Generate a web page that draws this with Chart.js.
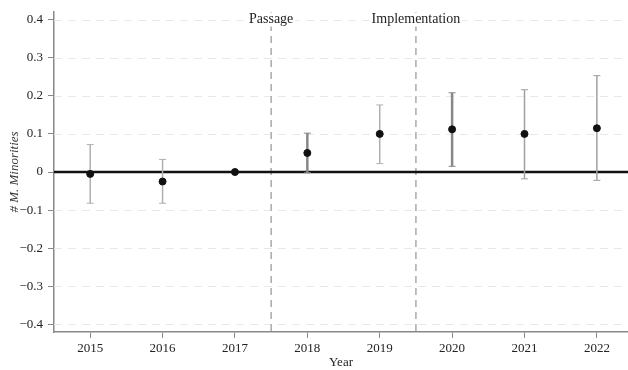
<!DOCTYPE html>
<html><head><meta charset="utf-8">
<script src="https://cdn.jsdelivr.net/npm/chart.js@4/dist/chart.umd.min.js"></script>
<style>html,body{margin:0;padding:0;background:#fff}#wrap{width:628px;height:370px}</style>
</head><body><div id="wrap"><canvas id="c"></canvas></div>
<script>
const years = [2015, 2016, 2017, 2018, 2019, 2020, 2021, 2022];
const estimates = [-0.005, -0.025, 0, 0.05, 0.1, 0.112, 0.1, 0.115];
const lowerCI = [-0.082, -0.082, null, -0.002, 0.022, 0.015, -0.018, -0.022];
const upperCI = [0.072, 0.033, null, 0.102, 0.176, 0.208, 0.216, 0.253];
const barColors = ['#b0b0b0', '#b0b0b0', '#b0b0b0', '#888888', '#b0b0b0', '#888888', '#a0a0a0', '#a0a0a0'];
const barWidths = [1.5, 1.5, 1.5, 2.5, 1.5, 2.5, 1.5, 1.5];
const yTicks = [-0.4, -0.3, -0.2, -0.1, 0, 0.1, 0.2, 0.3, 0.4];
const events = [{x: 2017.5, label: 'Passage'}, {x: 2019.5, label: 'Implementation'}];
const FONT = '"Liberation Serif", "DejaVu Serif", serif';

const decor = {
  id: 'decor',
  beforeDatasetsDraw(chart) {
    const {ctx, chartArea: a, scales: {x, y}} = chart;
    ctx.save();
    ctx.strokeStyle = '#e8e8e8'; ctx.lineWidth = 1; ctx.setLineDash([8, 6]);
    yTicks.forEach(v => { if (v === 0) return; const py = Math.round(y.getPixelForValue(v)) + 0.5;
      ctx.beginPath(); ctx.moveTo(a.left, py); ctx.lineTo(a.right, py); ctx.stroke(); });
    ctx.strokeStyle = '#aaaaaa'; ctx.lineWidth = 1.5; ctx.setLineDash([7, 5]);
    events.forEach(e => { const px = x.getPixelForValue(e.x);
      ctx.beginPath(); ctx.moveTo(px, a.top); ctx.lineTo(px, a.bottom); ctx.stroke(); });
    ctx.setLineDash([]);
    ctx.font = '14px ' + FONT; ctx.textAlign = 'center'; ctx.textBaseline = 'middle';
    events.forEach(e => { const px = x.getPixelForValue(e.x); const py = y.getPixelForValue(0.4);
      const w = ctx.measureText(e.label).width;
      ctx.fillStyle = '#fff'; ctx.fillRect(px - w/2 - 2, py - 7, w + 4, 14);
      ctx.fillStyle = '#222'; ctx.fillText(e.label, px, py); });
    ctx.strokeStyle = '#111'; ctx.lineWidth = 2.5;
    const zy = y.getPixelForValue(0);
    ctx.beginPath(); ctx.moveTo(a.left, zy); ctx.lineTo(a.right, zy); ctx.stroke();
    years.forEach((yr, i) => {
      if (lowerCI[i] == null) return;
      const px = x.getPixelForValue(yr), pl = y.getPixelForValue(lowerCI[i]), pu = y.getPixelForValue(upperCI[i]);
      ctx.strokeStyle = barColors[i]; ctx.lineWidth = barWidths[i];
      ctx.beginPath(); ctx.moveTo(px, pl); ctx.lineTo(px, pu); ctx.stroke();
      ctx.lineWidth = 1;
      ctx.beginPath(); ctx.moveTo(px - 3.5, pl); ctx.lineTo(px + 3.5, pl); ctx.moveTo(px - 3.5, pu); ctx.lineTo(px + 3.5, pu); ctx.stroke();
    });
    ctx.restore();
  }
};

new Chart(document.getElementById('c'), {
  type: 'scatter',
  data: { datasets: [{ data: years.map((yr, i) => ({x: yr, y: estimates[i]})),
    backgroundColor: '#111', borderColor: '#111', pointRadius: 3.5, pointHoverRadius: 3.5 }] },
  options: {
    responsive: true, maintainAspectRatio: false, animation: false,
    layout: { autoPadding: false, padding: { top: 12, right: 0, left: 0, bottom: 0 } },
    plugins: { legend: { display: false }, tooltip: { enabled: false } },
    scales: {
      x: { type: 'linear', min: 2014.5, max: 2022.43,
        afterBuildTicks: s => { s.ticks = years.map(v => ({value: v})); },
        afterFit: s => { s.height = 38; s.paddingRight = 0; s.paddingLeft = 0; },
        grid: { drawOnChartArea: false, drawTicks: true, tickLength: 6, color: '#888', tickWidth: 1 },
        border: { display: true, color: '#888', width: 1.5 },
        ticks: { color: '#222', font: { family: FONT, size: 13 }, padding: 3, callback: v => String(v), maxRotation: 0 },
        title: { display: true, text: 'Year', color: '#222', font: { family: FONT, size: 13 }, padding: { top: 3, bottom: 0 } }
      },
      y: { min: -0.42, max: 0.42,
        afterBuildTicks: s => { s.ticks = yTicks.map(v => ({value: v})); },
        afterFit: s => { s.width = 54; s.paddingTop = 0; s.paddingBottom = 0; },
        grid: { drawOnChartArea: false, drawTicks: true, tickLength: 6, color: '#888', tickWidth: 1 },
        border: { display: true, color: '#888', width: 1.5 },
        ticks: { color: '#222', font: { family: FONT, size: 13 }, padding: 5,
          callback: v => { const r = Math.round(v * 10) / 10; return r === 0 ? '0' : (r < 0 ? '\u2212' + Math.abs(r).toFixed(1) : r.toFixed(1)); } },
        title: { display: true, text: '# M. Minorities', color: '#333', font: { family: FONT, size: 13, style: 'italic' }, padding: { top: 7, bottom: 0 } }
      }
    }
  },
  plugins: [decor]
});
</script></body></html>
